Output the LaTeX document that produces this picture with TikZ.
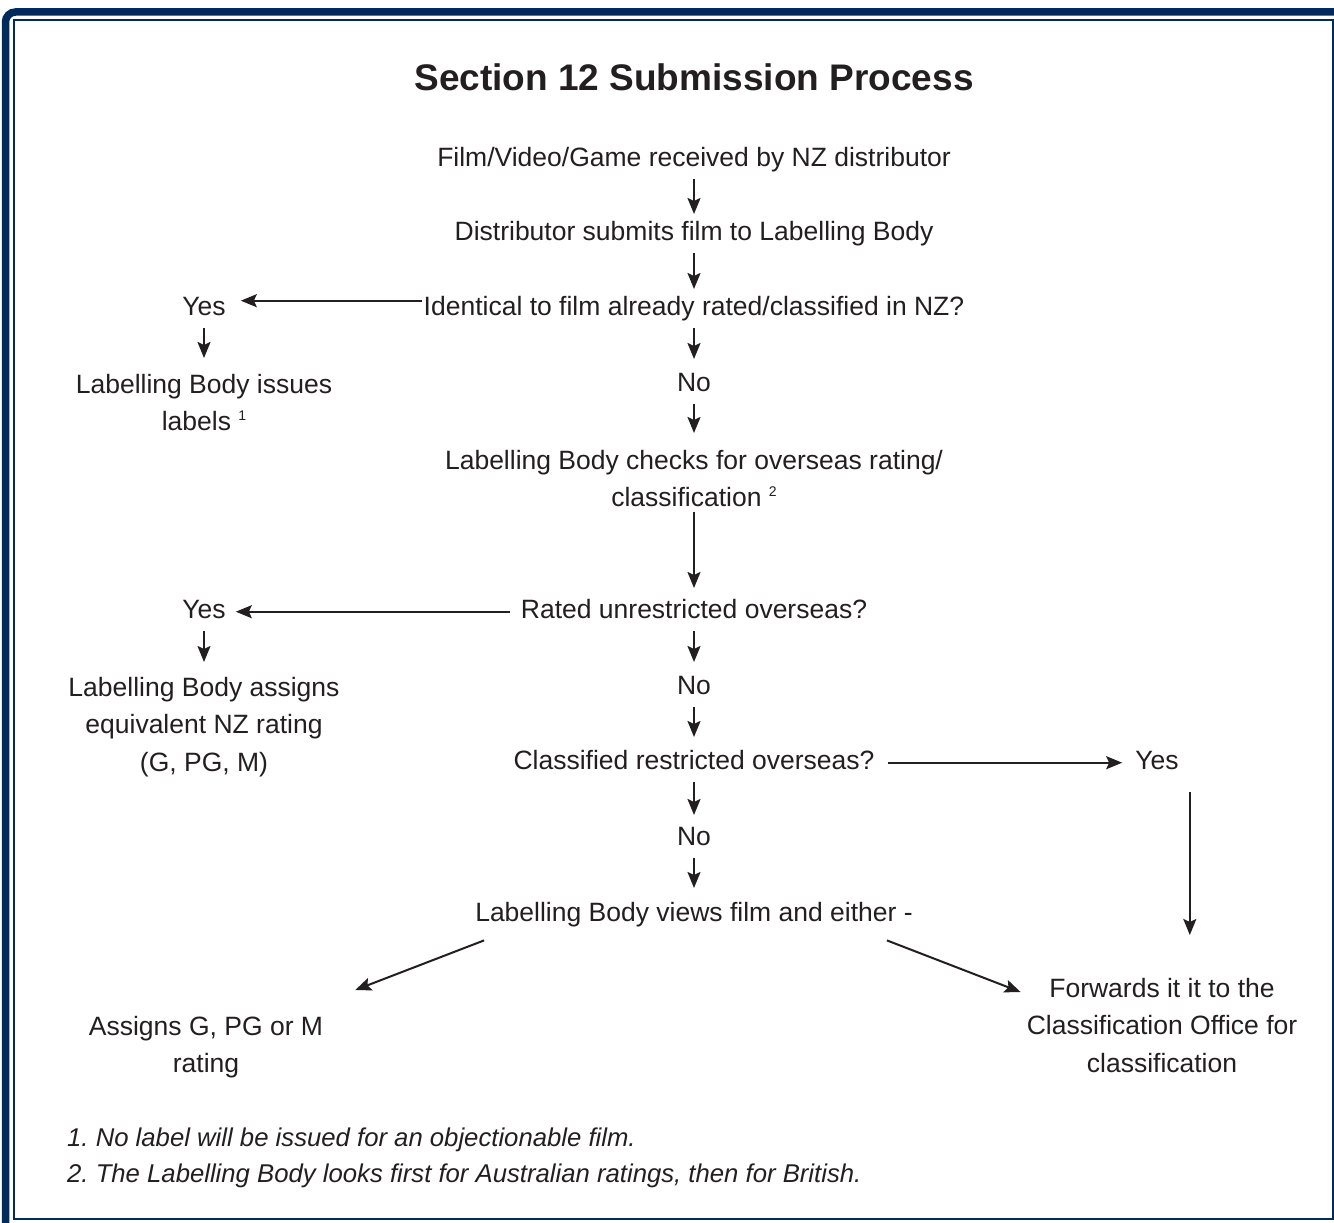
\documentclass[tikz,border=0pt]{standalone}
\usepackage{fontspec}
\setmainfont{Liberation Sans}
\usetikzlibrary{arrows.meta}
\definecolor{ink}{HTML}{231F20}
\definecolor{navy}{HTML}{002B5C}
\newcommand\bodyfnt{\fontsize{26.5}{37.5}\selectfont}
\newcommand\notefnt{\fontsize{25.7}{36}\selectfont\itshape\frenchspacing}
\newcommand\titlefnt{\fontsize{37}{44}\selectfont\bfseries}
\newcommand\fnmark[1]{ {\fontsize{14}{14}\selectfont\raisebox{10pt}{#1}}}
\frenchspacing
\begin{document}
\begin{tikzpicture}[x=1pt,y=-1pt,
  ml/.style={font=\bodyfnt, text=ink, align=center, inner xsep=2pt, inner ysep=7pt, anchor=north},
  txt/.style={ml, text height=19pt, text depth=6pt},
  note/.style={font=\notefnt, text=ink, inner sep=0pt, anchor=base west},
  arr/.style={draw=ink, line width=2pt, -{Stealth[length=16pt,width=13pt,inset=3pt]}}]
\useasboundingbox (0,0) rectangle (1334,1223);
\fill[white] (0,0) rectangle (1334,1223);
\begin{scope}
  \clip (0,0) rectangle (1334,1223);
  \draw[navy, line width=7.5pt, rounded corners=10pt] (5.5,1300) -- (5.5,12) -- (1400,12);
\end{scope}
\draw[navy, line width=2pt] (14,20.5) rectangle (1332.5,1219);

% title
\node[font=\titlefnt, text=ink, anchor=base, inner sep=0pt] (title) at (694,91) {Section 12 Submission Process};

% main column
\node[txt] (film) at (694,140) {Film/Video/Game received by NZ distributor};
\node[txt] (dist) at (694,214) {Distributor submits film to Labelling Body};
\node[txt] (ident) at (694,289) {Identical to film already rated/classified in NZ?};
\node[txt] (yes1) at (204,289) {Yes};
\node[ml] (issues) at (204,367) {Labelling Body issues\\labels\fnmark{1}};
\node[txt] (no1) at (694,365) {No};
\node[ml] (checks) at (694,443) {Labelling Body checks for overseas rating/\\classification\fnmark{2}};
\node[txt] (rated) at (694,592) {Rated unrestricted overseas?};
\node[txt] (yes2) at (204,592) {Yes};
\node[ml] (assigns) at (204,670) {Labelling Body assigns\\equivalent NZ rating\\(G, PG, M)};
\node[txt] (no2) at (694,668) {No};
\node[txt] (classified) at (694,743) {Classified restricted overseas?};
\node[txt] (yes3) at (1157,743) {Yes};
\node[txt] (no3) at (694,819) {No};
\node[txt] (views) at (694,895) {Labelling Body views film and either -};
\node[ml] (assignsG) at (206,1009) {Assigns G, PG or M\\rating};
\node[ml] (fwd) at (1162,971) {Forwards it it to the\\Classification Office for\\classification};

% footnotes
\node[note] (fn1) at (67,1146) {1. No label will be issued for an objectionable film.};
\node[note] (fn2) at (67,1182) {2. The Labelling Body looks first for Australian ratings, then for British.};

% connectors
\draw[arr] (film.south) -- (dist.north);
\draw[arr] (dist.south) -- (ident.north);
\draw[arr, shorten >=13pt] ([yshift=8pt]ident.west) -- ([yshift=8pt]yes1.east);
\draw[arr, shorten >=9pt] (yes1.south) -- (issues.north);
\draw[arr, shorten >=6pt] (ident.south) -- (no1.north);
\draw[arr, shorten >=10pt] (no1.south) -- (checks.north);
\draw[arr, shorten <=-2pt, shorten >=4pt] (checks.south) -- (rated.north);
\draw[arr, shorten <=9pt, shorten >=8pt] (rated.west) -- (yes2.east);
\draw[arr, shorten >=8pt] (yes2.south) -- (assigns.north);
\draw[arr, shorten >=6pt] (rated.south) -- (no2.north);
\draw[arr, shorten >=6pt] (no2.south) -- (classified.north);
\draw[arr, shorten <=11pt, shorten >=11pt] (classified.east) -- (yes3.west);
\draw[arr, shorten <=10pt, shorten >=36pt] ([xshift=9pt]yes3.south east) -- ([xshift=9pt]yes3.south east |- fwd.north);
\draw[arr, shorten >=4pt] (classified.south) -- (no3.north);
\draw[arr, shorten >=7pt] (no3.south) -- (views.north);
\draw[arr] ([xshift=11pt,yshift=-6pt]views.south west) -- ([xshift=30pt,yshift=19pt]assignsG.north east);
\draw[arr] ([xshift=-28pt,yshift=-6pt]views.south east) -- ([xshift=-4pt,yshift=-21pt]fwd.north west);
\end{tikzpicture}
\end{document}
